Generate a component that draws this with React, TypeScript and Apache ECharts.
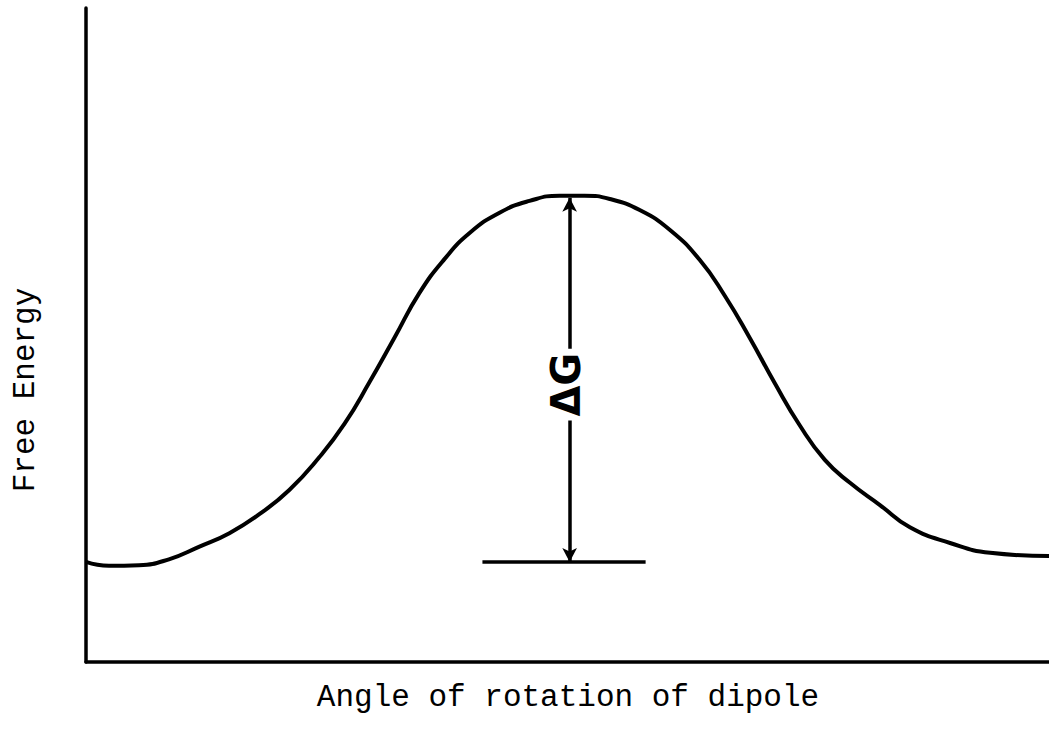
import React, { useEffect, useRef } from "react";
import * as echarts from "echarts";

// Angle of rotation (deg, 0–180 across the axis) and free energy (arbitrary units, 0–100)
const angles = [
  0, 4.3, 9.9, 15.5, 21.1, 26.8, 32.4, 38.0, 43.6, 48.3, 53.0, 57.6, 62.3, 67.0,
  71.7, 77.3, 82.9, 88.5, 93.2, 97.9, 103.5, 109.1, 114.7, 119.4, 124.1, 128.7,
  133.4, 138.1, 142.8, 148.4, 154.0, 161.5, 169.0, 180,
];
const freeEnergy = [
  15.3, 14.7, 14.8, 15.7, 17.6, 19.7, 22.6, 26.3, 31.3, 36.4, 42.8, 49.5, 56.4,
  61.6, 65.6, 68.7, 70.5, 71.3, 71.3, 70.8, 69.1, 66.1, 61.5, 56.0, 49.5, 42.7,
  36.2, 30.9, 27.4, 24.0, 20.6, 18.2, 16.7, 16.2,
];

const xAxisTitle = "Angle of rotation of dipole";
const yAxisTitle = "Free Energy";
const barrierLabel = "ΔG";

const arrowAngle = 90.4;
const barrierTop = 71.0;
const minimumLevel = 15.3;
const baselineFrom = 74.1;
const baselineTo = 104.6;
const barrierLabelLevel = 42.4;

export default function App() {
  const ref = useRef<HTMLDivElement>(null);
  useEffect(() => {
    const chart = echarts.init(ref.current!, null, { renderer: "svg" });
    const axisLine = { show: true, lineStyle: { color: "#000", width: 3.5 } };
    chart.setOption({
      animation: false,
      backgroundColor: "#fff",
      grid: { left: 86, right: 0, top: 8, bottom: 68 },
      xAxis: {
        type: "value",
        min: 0,
        max: 180,
        axisLine,
        axisTick: { show: false },
        axisLabel: { show: false },
        splitLine: { show: false },
      },
      yAxis: {
        type: "value",
        min: 0,
        max: 100,
        axisLine,
        axisTick: { show: false },
        axisLabel: { show: false },
        splitLine: { show: false },
      },
      series: [
        {
          type: "line",
          data: angles.map((a, i) => [a, freeEnergy[i]]),
          smooth: 0.5,
          showSymbol: false,
          lineStyle: { color: "#000", width: 4 },
          z: 3,
        },
        {
          type: "line",
          data: [],
          markLine: {
            silent: true,
            animation: false,
            data: [
              [
                { coord: [arrowAngle, minimumLevel], symbol: "arrow" },
                { coord: [arrowAngle, barrierTop], symbol: "arrow" },
              ],
              [
                { coord: [baselineFrom, minimumLevel], symbol: "none" },
                { coord: [baselineTo, minimumLevel], symbol: "none" },
              ],
            ],
            symbolSize: [11, 14],
            lineStyle: { color: "#000", width: 3.5, type: "solid" },
            label: { show: false },
          },
        },
      ],
    });
    const [lx, ly] = chart.convertToPixel({ gridIndex: 0 }, [arrowAngle, barrierLabelLevel]);
    chart.setOption({
      graphic: [
        {
          type: "text",
          x: lx - 4,
          y: ly,
          rotation: Math.PI / 2,
          z: 10,
          style: {
            text: barrierLabel,
            font: "bold 40px 'DejaVu Sans', sans-serif",
            fill: "#000",
            align: "center",
            verticalAlign: "middle",
            backgroundColor: "#fff",
            padding: [2, 4],
          },
        },
        {
          type: "text",
          x: 25,
          y: 390,
          rotation: Math.PI / 2,
          style: {
            text: yAxisTitle,
            font: "31px 'Liberation Mono', monospace",
            fill: "#000",
            align: "center",
            verticalAlign: "middle",
          },
        },
        {
          type: "text",
          x: 568,
          y: 697,
          style: {
            text: xAxisTitle,
            font: "31px 'Liberation Mono', monospace",
            fill: "#000",
            align: "center",
            verticalAlign: "middle",
          },
        },
      ],
    });
    return () => chart.dispose();
  }, []);
  return (
    <div
      ref={ref}
      style={{ position: "absolute", left: 0, top: 0, width: 1049, height: 730 }}
    />
  );
}
